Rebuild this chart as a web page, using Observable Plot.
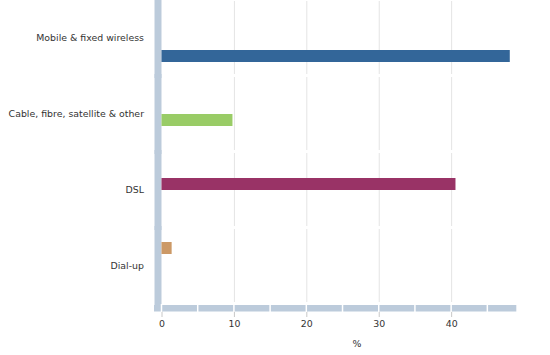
<!DOCTYPE html>
<html>
<head>
<meta charset="utf-8">
<script src="https://cdn.jsdelivr.net/npm/d3@7"></script>
<script src="https://cdn.jsdelivr.net/npm/@observablehq/plot@0.6"></script>
<style>
  html, body { margin: 0; padding: 0; background: #fff; }
  #chart svg { display: block; }
</style>
</head>
<body>
<div id="chart"></div>
<script>
const categories = ["Mobile & fixed wireless", "Cable, fibre, satellite & other", "DSL", "Dial-up"];
const values = [48.1, 9.8, 40.6, 1.4];
const colors = ["#336699", "#99cc66", "#993366", "#cc9966"];
const xTicks = [0, 10, 20, 30, 40];
const xGrid = [10, 20, 30, 40];
const xSeparators = [0, 5, 10, 15, 20, 25, 30, 35, 40, 45];
const xLabel = "%";

const data = categories.map((c, i) => ({category: c, value: values[i]}));
const font = "DejaVu Sans, Verdana, sans-serif";
const axisColor = "#bccbdb";

const plot = Plot.plot({
  width: 550,
  height: 355,
  marginLeft: 157.5,
  marginRight: 33.7,
  marginTop: 0,
  marginBottom: 52,
  style: {fontFamily: font, fontSize: "9.4px", color: "#333", background: "#fff"},
  x: {domain: [0, 49], insetLeft: 4, axis: null},
  y: {domain: categories.slice().reverse(), paddingInner: 0.04, paddingOuter: 1.0, axis: null},
  fy: {domain: categories, paddingInner: 0.033, paddingOuter: 0, label: null},
  color: {domain: categories, range: colors},
  marks: [
    Plot.gridX(xGrid, {stroke: "#e4e4e4", strokeOpacity: 1, strokeWidth: 1}),
    Plot.frame({anchor: "left", stroke: axisColor, strokeWidth: 7, strokeOpacity: 1}),
    Plot.barX(data, {x: "value", y: "category", fy: "category", fill: "category"}),
    Plot.axisFy({anchor: "left", tickSize: 0, tickPadding: 14, fill: "#333", fontSize: 9.4}),
    Plot.axisX(xTicks, {anchor: "bottom", tickSize: 6, tickPadding: 3, dy: 9, stroke: "#c8c8c8", fill: "#333", label: null, fontSize: 9.4})
  ]
});

document.getElementById("chart").appendChild(plot);

// decorative bottom axis bar, positioned through Plot's x scale
const xs = plot.scale("x");
const svg = d3.select(plot.tagName === "svg" ? plot : plot.querySelector("svg"));
const x0 = xs.apply(0);
const xEnd = xs.apply(49);
const g = svg.append("g");
g.append("rect")
  .attr("x", x0 - 7.5).attr("y", 305)
  .attr("width", xEnd - x0 + 7.5).attr("height", 6.5)
  .attr("fill", axisColor);
g.selectAll("line.sep").data(xSeparators).join("line")
  .attr("x1", d => xs.apply(d)).attr("x2", d => xs.apply(d))
  .attr("y1", 304).attr("y2", 312)
  .attr("stroke", "#fff").attr("stroke-width", 1.5);
svg.append("text")
  .attr("x", xs.apply(27)).attr("y", 347)
  .attr("text-anchor", "middle")
  .attr("fill", "#333")
  .style("font-family", font).style("font-size", "9.4px")
  .text(xLabel);
</script>
</body>
</html>
